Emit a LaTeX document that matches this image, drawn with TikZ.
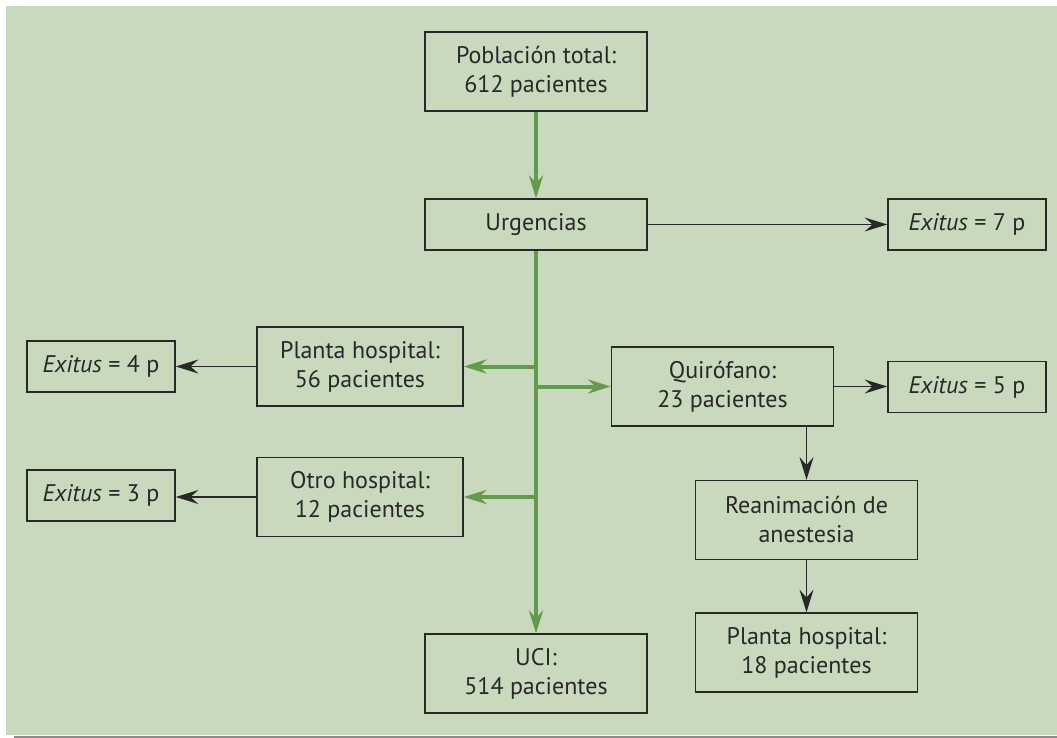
\documentclass[tikz,border=0pt]{standalone}
\usepackage{fontspec}
\setmainfont{PT Sans}
\usetikzlibrary{arrows.meta}
\definecolor{bggreen}{RGB}{201,217,190}
\definecolor{arrgreen}{RGB}{99,154,75}
\definecolor{boxline}{RGB}{40,40,40}
\definecolor{rulegray}{RGB}{140,140,140}
\tikzset{
  box/.style={draw=boxline,text=boxline,line width=1.1pt,align=center,inner sep=0pt,
    minimum width=166.5pt,minimum height=59.25pt,font=\fontsize{18}{21.75}\selectfont},
  flatbox/.style={box,minimum height=38.25pt},
  midbox/.style={box,minimum width=154.5pt},
  exleft/.style={flatbox,minimum width=111pt},
  exright/.style={flatbox,minimum width=118.5pt},
  mainflow/.style={arrgreen,line width=3pt,-{Stealth[length=17pt,width=10.5pt]}},
  sideflow/.style={boxline,line width=1.1pt,-{Stealth[length=17pt,width=10.5pt,inset=6pt]}}
}
\begin{document}
\begin{tikzpicture}[x=0.75pt,y=-0.75pt]
\useasboundingbox (0,0) rectangle (1057,738);
\fill[bggreen] (6,6) rectangle (1057,735);
\fill[rulegray] (14,735.5) rectangle (1057,738);

% nodes
\node[box] (pob) at (536,71.5) {Población total:\\612 pacientes};
\node[flatbox] (urg) at (536,224.5) {Urgencias};
\node[exright] (ex7) at (967,224.5) {\textit{Exitus} = 7 p};
\node[midbox] (pl56) at (360,366.5) {Planta hospital:\\56 pacientes};
\node[exleft] (ex4) at (101,366.5) {\textit{Exitus} = 4 p};
\node[midbox] (otro) at (360,497) {Otro hospital:\\12 pacientes};
\node[exleft] (ex3) at (101,495.5) {\textit{Exitus} = 3 p};
\node[box] (quir) at (722.5,386.5) {Quirófano:\\23 pacientes};
\node[exright] (ex5) at (967,387) {\textit{Exitus} = 5 p};
\node[box] (rean) at (806.5,520) {Reanimación de\\anestesia};
\node[box] (pl18) at (806.5,652.5) {Planta hospital:\\18 pacientes};
\node[box] (uci) at (536,673.5) {UCI:\\514 pacientes};

% main path
\draw[mainflow] (pob) -- (urg);
\draw[mainflow] (urg) -- (uci);
\draw[mainflow] (urg.south |- pl56.east) -- (pl56.east);
\draw[mainflow] (urg.south |- otro.east) -- (otro.east);
\draw[mainflow] (urg.south |- quir.west) -- (quir.west);

% exitus and surgery branch
\draw[sideflow] (urg) -- (ex7);
\draw[sideflow] (pl56) -- (ex4);
\draw[sideflow] (otro.west) -- (otro.west -| ex3.east);
\draw[sideflow] (quir.east) -- (quir.east -| ex5.west);
\draw[sideflow] (rean.north |- quir.south) -- (rean.north);
\draw[sideflow] (rean) -- (pl18);
\end{tikzpicture}
\end{document}
